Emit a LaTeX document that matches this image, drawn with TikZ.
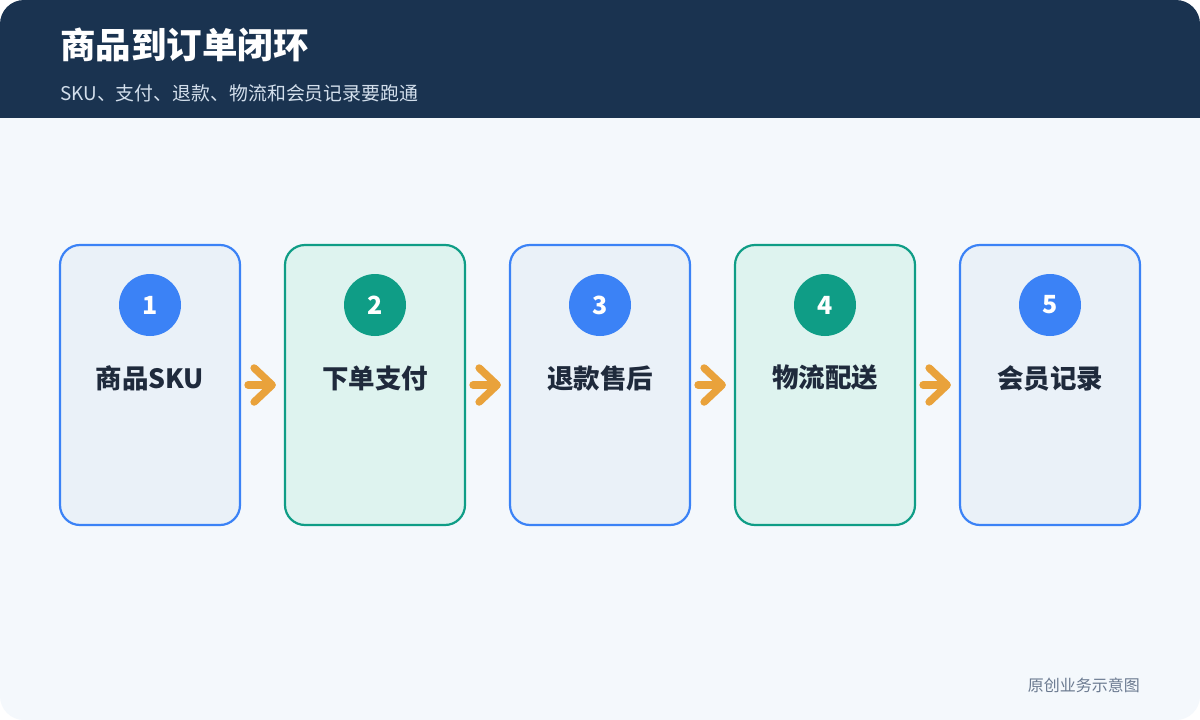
\documentclass[tikz,border=0pt]{standalone}
\usepackage{fontspec}
\setmainfont{Noto Sans CJK SC}
\usetikzlibrary{positioning,arrows.meta}
\definecolor{navy}{HTML}{1A3350}
\definecolor{pagebg}{HTML}{F4F8FC}
\definecolor{subc}{HTML}{D3DFEC}
\definecolor{footc}{HTML}{6B7A90}
\definecolor{inkc}{HTML}{1F2A3C}
\definecolor{sblue}{HTML}{3B82F6}
\definecolor{fblue}{HTML}{EAF1F8}
\definecolor{steal}{HTML}{0F9D86}
\definecolor{fteal}{HTML}{DEF3EF}
\definecolor{arrowc}{HTML}{E9A23B}
\tikzstyle{line} = [draw=arrowc, line width=7.5pt, line cap=round, shorten <=7pt, shorten >=8pt, -{Straight Barb[length=18pt, width=34pt, round]}]
\tikzstyle{stage_blue} = [rectangle, rounded corners=20pt, draw=sblue, fill=fblue, line width=2.2pt, minimum width=180pt, minimum height=280pt, inner sep=0pt]
\tikzstyle{stage_teal} = [rectangle, rounded corners=20pt, draw=steal, fill=fteal, line width=2.2pt, minimum width=180pt, minimum height=280pt, inner sep=0pt]
\tikzstyle{num_blue} = [circle, fill=sblue, minimum size=62pt, inner sep=0pt, text=white, font=\bfseries\fontsize{25}{25}\selectfont]
\tikzstyle{num_teal} = [circle, fill=steal, minimum size=62pt, inner sep=0pt, text=white, font=\bfseries\fontsize{25}{25}\selectfont]
\tikzstyle{stage_txt} = [text=inkc, font=\bfseries\fontsize{26.5}{26.5}\selectfont]

\begin{document}
\begin{tikzpicture}[x=1pt, y=-1pt]
\fill[white] (0,0) rectangle (1200,720);
\useasboundingbox (0,0) rectangle (1200,720);
\begin{scope}
\clip[rounded corners=24pt] (0,0) rectangle (1200,720);
\fill[pagebg] (0,0) rectangle (1200,720);
\fill[navy] (0,0) rectangle (1200,118);
\end{scope}

\node [anchor=west, inner sep=0pt, text=white, font=\bfseries\fontsize{35.5}{35.5}\selectfont] (title) at (60,45) {商品到订单闭环};
\node [anchor=west, inner sep=0pt, text=subc, font=\fontsize{18.9}{18.9}\selectfont] (subtitle) at (60,93) {SKU、支付、退款、物流和会员记录要跑通};

\node [stage_blue] (s1) at (150,385) {};
\node [stage_teal, right=42.8pt of s1] (s2) {};
\node [stage_blue, right=42.8pt of s2] (s3) {};
\node [stage_teal, right=42.8pt of s3] (s4) {};
\node [stage_blue, right=42.8pt of s4] (s5) {};

\node [num_blue] (n1) at ([yshift=80pt]s1.center) {1};
\node [num_teal] (n2) at ([yshift=80pt]s2.center) {2};
\node [num_blue] (n3) at ([yshift=80pt]s3.center) {3};
\node [num_teal] (n4) at ([yshift=80pt]s4.center) {4};
\node [num_blue] (n5) at ([yshift=80pt]s5.center) {5};

\node [stage_txt] (t1) at ([yshift=7pt]s1.center) {商品SKU};
\node [stage_txt] (t2) at ([yshift=7pt]s2.center) {下单支付};
\node [stage_txt] (t3) at ([yshift=7pt]s3.center) {退款售后};
\node [stage_txt] (t4) at ([yshift=7pt]s4.center) {物流配送};
\node [stage_txt] (t5) at ([yshift=7pt]s5.center) {会员记录};

\path [line] (s1) to (s2);
\path [line] (s2) to (s3);
\path [line] (s3) to (s4);
\path [line] (s4) to (s5);

\node [anchor=east, inner sep=0pt, text=footc, font=\fontsize{16}{16}\selectfont] (foot) at (1140,685) {原创业务示意图};
\end{tikzpicture}
\end{document}
